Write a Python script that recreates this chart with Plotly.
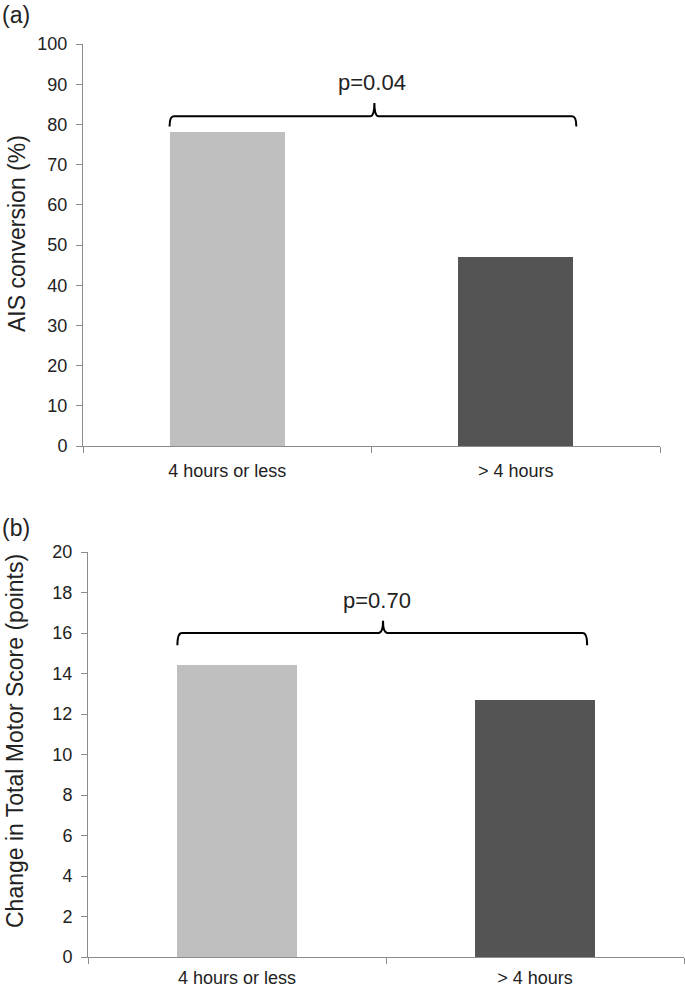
import plotly.graph_objects as go

categories = ["4 hours or less", "> 4 hours"]
ais_conversion = [78, 47]
motor_change = [14.4, 12.7]
bar_colors = ["#bfbfbf", "#545454"]
p_values = ["p=0.04", "p=0.70"]
panel_labels = ["(a)", "(b)"]
y_titles = ["AIS conversion (%)", "Change in Total Motor Score (points)"]

FONT = "Liberation Sans, Arial, sans-serif"
W, H = 685, 990
AX = "#8c8c8c"

fig = go.Figure()
xs = list(range(len(categories)))
fig.add_trace(go.Bar(x=xs, y=ais_conversion, marker=dict(color=bar_colors, line=dict(width=0)),
                     width=0.4, xaxis="x", yaxis="y", showlegend=False))
fig.add_trace(go.Bar(x=xs, y=motor_change, marker=dict(color=bar_colors, line=dict(width=0)),
                     width=0.4, xaxis="x2", yaxis="y2", showlegend=False))

def px_x(p):
    return p / W

def px_y(p):
    return 1 - p / H

xax = dict(range=[-0.5, 1.5], tickvals=xs, ticktext=categories, ticks="", showline=True,
           linecolor=AX, linewidth=1, showgrid=False, zeroline=False,
           tickfont=dict(family=FONT, size=18, color="#222"), fixedrange=True,
           minor=dict(tickvals=[-0.5, 0.5, 1.5], ticks="outside", ticklen=6, tickcolor=AX, tickwidth=1))
yax = dict(showline=True, linecolor=AX, linewidth=1, ticks="outside", ticklen=6, tickcolor=AX,
           showgrid=False, zeroline=False, ticklabelstandoff=5, fixedrange=True,
           tickfont=dict(family=FONT, size=18, color="#222"))

fig.update_layout(
    width=W, height=H, margin=dict(l=0, r=0, t=0, b=0, autoexpand=False),
    paper_bgcolor="white", plot_bgcolor="white", bargap=0,
    xaxis=dict(xax, domain=[px_x(83), px_x(660)], anchor="y", ticklabelstandoff=8),
    yaxis=dict(yax, domain=[px_y(446), px_y(44)], range=[0, 100], dtick=10, anchor="x"),
    xaxis2=dict(xax, domain=[px_x(88), px_x(684)], anchor="y2", ticklabelstandoff=4),
    yaxis2=dict(yax, domain=[px_y(957), px_y(552)], range=[0, 20], dtick=2, anchor="x2"),
)

def brace(xref, yref, x0, x1, xm, yl, ye, yt, dx):
    path = (f"M {x0},{ye} Q {x0},{yl} {x0+dx},{yl} L {xm-dx},{yl} Q {xm},{yl} {xm},{yt} "
            f"Q {xm},{yl} {xm+dx},{yl} L {x1-dx},{yl} Q {x1},{yl} {x1},{ye}")
    fig.add_shape(type="path", path=path, xref=xref, yref=yref, line=dict(color="black", width=2))

brace("x", "y", -0.2, 1.21, 0.51, 82, 79.5, 85.3, 0.015)
brace("x2", "y2", -0.2, 1.175, 0.49, 16, 15.4, 16.6, 0.015)

fig.add_annotation(x=0.5, y=90.3, xref="x", yref="y", text=p_values[0], showarrow=False,
                   xanchor="center", yanchor="middle",
                   font=dict(family=FONT, size=22, color="#222"))
fig.add_annotation(x=0.47, y=17.6, xref="x2", yref="y2", text=p_values[1], showarrow=False,
                   xanchor="center", yanchor="middle",
                   font=dict(family=FONT, size=22, color="#222"))

for lab, yc in zip(panel_labels, [15, 528]):
    fig.add_annotation(x=px_x(0), y=px_y(yc), xref="paper", yref="paper", xanchor="left",
                       yanchor="middle", text=lab, showarrow=False,
                       font=dict(family=FONT, size=23, color="#222"))

for t, xc, yc in zip(y_titles, [17, 15], [234, 741]):
    fig.add_annotation(x=px_x(xc), y=px_y(yc), xref="paper", yref="paper", text=t, textangle=-90,
                       xanchor="center", yanchor="middle", showarrow=False,
                       font=dict(family=FONT, size=23, color="#222"))

fig.write_html("out.html", config={"displayModeBar": False},
               post_script="document.body.style.margin='0';")
